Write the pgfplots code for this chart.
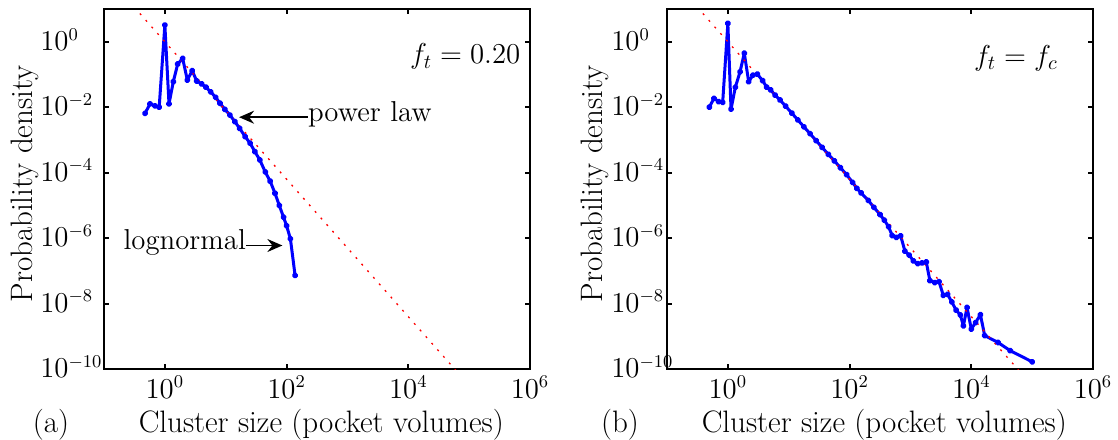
\documentclass[border=0pt]{standalone}
\usepackage{pgfplots}
\pgfplotsset{compat=1.18}
\usetikzlibrary{arrows.meta}

\tikzset{ann/.style={font=\fontsize{14.4}{17}\selectfont, inner sep=0pt},
  arr/.style={-{Stealth[length=7.5pt,width=6.5pt,inset=2.5pt]}, line width=0.8pt}}

\begin{document}
\begin{tikzpicture}
\path[use as bounding box] (-52pt,-35pt) rectangle (507pt,184.5pt);

% (a) f_t = 0.20
\begin{axis}[
  name=pa, at={(0,0)},
  xmode=log, ymode=log,
  scale only axis, width=213pt, height=180pt,
  xmin=0.1, xmax=1e6, ymin=1e-10, ymax=10,
  xtick={1,100,1e4,1e6},
  ytick={1e-10,1e-8,1e-6,1e-4,1e-2,1},
  xminorticks=false, yminorticks=false,
  tick align=inside, major tick length=2.5pt,
  axis line style={line width=1.2pt},
  every tick/.style={black, line width=1pt},
  tick label style={font=\fontsize{13.5}{15}\selectfont},
  label style={font=\fontsize{15.5}{18}\selectfont},
  xlabel={Cluster size (pocket volumes)},
  ylabel={Probability density},
  xlabel style={at={(rel axis cs:0.51,0)}, anchor=base, yshift=-31.5pt},
  ylabel style={at={(rel axis cs:-0.185,0.514)}, anchor=center},
  yticklabel style={anchor=base west, xshift=-32pt, yshift=-4.4pt, inner xsep=0pt},
]
\addplot[blue, line width=1.5pt, line join=round, mark=*, mark size=0.85pt] coordinates {
(0.472,6.46e-3) (0.570,1.26e-2) (0.689,1.10e-2) (0.807,1.0e-2) (1.0,3.24)
(1.17,1.26e-2) (1.377,6.03e-2) (1.626,0.209) (1.963,0.309) (2.339,6.76e-2)
(2.818,0.130) (3.334,6.31e-2) (4.027,5.13e-2) (4.742,4.07e-2) (5.662,2.95e-2)
(6.839,2.0e-2) (8.054,1.32e-2) (9.727,8.51e-3) (11.75,5.75e-3) (14.13,3.63e-3)
(16.98,2.24e-3) (20.89,1.26e-3) (25.12,7.94e-4) (30.2,4.37e-4) (36.31,2.45e-4)
(44.67,1.05e-4) (53.7,5.5e-5) (64.57,2.34e-5) (75.86,1.0e-5) (89.13,4.37e-6)
(100,2.40e-6) (115.6,9.55e-7) (138,7.24e-8)
};
\addplot[red, line width=0.65pt, dash pattern=on 1pt off 3.4pt] coordinates {(0.25,18.38) (1e5,3.16e-11)};
\draw[arr] (axis cs:222,4.94e-3) -- (axis cs:16.6,4.94e-3);
\node[ann, anchor=mid west] at (axis cs:222,4.94e-3) {power law};
\draw[arr] (axis cs:21.8,5.94e-7) -- (axis cs:85.3,5.94e-7);
\node[ann, anchor=mid east] at (axis cs:21.8,5.94e-7) {lognormal};
\node[ann, anchor=base east] at (rel axis cs:0.978,0.848) {$f_t = 0.20$};
\end{axis}
\node[font=\fontsize{15.5}{18}\selectfont, anchor=base, xshift=-26.5pt, yshift=-31.5pt] at (pa.south west) {(a)};

% (b) f_t = f_c
\begin{axis}[
  name=pb, at={(281.5pt,0)},
  xmode=log, ymode=log,
  scale only axis, width=213pt, height=180pt,
  xmin=0.1, xmax=1e6, ymin=1e-10, ymax=10,
  xtick={1,100,1e4,1e6},
  ytick={1e-10,1e-8,1e-6,1e-4,1e-2,1},
  xminorticks=false, yminorticks=false,
  tick align=inside, major tick length=2.5pt,
  axis line style={line width=1.2pt},
  every tick/.style={black, line width=1pt},
  tick label style={font=\fontsize{13.5}{15}\selectfont},
  label style={font=\fontsize{15.5}{18}\selectfont},
  xlabel={Cluster size (pocket volumes)},
  ylabel={Probability density},
  xlabel style={at={(rel axis cs:0.51,0)}, anchor=base, yshift=-31.5pt},
  ylabel style={at={(rel axis cs:-0.17,0.514)}, anchor=center},
  yticklabel style={anchor=base west, xshift=-28pt, yshift=-4.4pt, inner xsep=0pt},
]
\addplot[blue, line width=1.5pt, line join=round, mark=*, mark size=0.85pt] coordinates {
(0.4955,1.0e-2) (0.5916,1.862e-2) (0.7063,1.479e-2) (0.8222,1.413e-2) (1.0,3.63)
(1.127,8.71e-3) (1.327,4.07e-2) (1.585,0.1202) (1.862,0.4467) (2.198,6.03e-2)
(2.588,9.55e-2) (3.048,0.1023) (3.733,6.46e-2) (4.345,4.07e-2) (5.047,3.39e-2)
(5.957,2.34e-2) (7.194,1.66e-2) (8.913,1.07e-2) (11.22,6.61e-3) (14.13,4.07e-3)
(17.78,2.51e-3) (22.39,1.55e-3) (28.18,9.55e-4) (35.48,5.89e-4) (44.67,3.63e-4)
(56.23,2.29e-4) (70.79,1.41e-4) (89.13,8.71e-5) (112.2,5.01e-5) (131.8,3.31e-5)
(154.9,2.40e-5) (203.2,1.41e-5) (251.2,8.71e-6) (316.2,5.25e-6) (371.5,3.55e-6)
(436.5,2.24e-6) (501.2,1.20e-6) (588.8,1.05e-6) (691.8,1.17e-6) (812.8,3.98e-7)
(955,3.02e-7) (1122,2.0e-7) (1318,1.66e-7) (1549,1.74e-7) (1820,1.86e-7)
(2089,5.01e-8) (2512,4.37e-8) (2951,4.68e-8) (3467,1.78e-8) (4074,1.91e-8)
(4786,1.12e-8) (5623,6.31e-9) (6607,4.47e-9) (7413,2.09e-9) (8511,7.59e-9)
(10000,1.66e-9) (11750,2.63e-9) (14130,4.57e-9) (16600,1.05e-9) (27540,6.46e-10)
(43650,3.63e-10) (100000,1.66e-10)
};
\addplot[red, line width=0.65pt, dash pattern=on 1pt off 3.4pt] coordinates {(0.25,18.38) (1e5,3.16e-11)};
\node[ann, anchor=base east] at (rel axis cs:0.918,0.843) {$f_t = f_c$};
\end{axis}
\node[font=\fontsize{15.5}{18}\selectfont, anchor=base, xshift=-23.5pt, yshift=-31.5pt] at (pb.south west) {(b)};
\end{tikzpicture}
\end{document}
